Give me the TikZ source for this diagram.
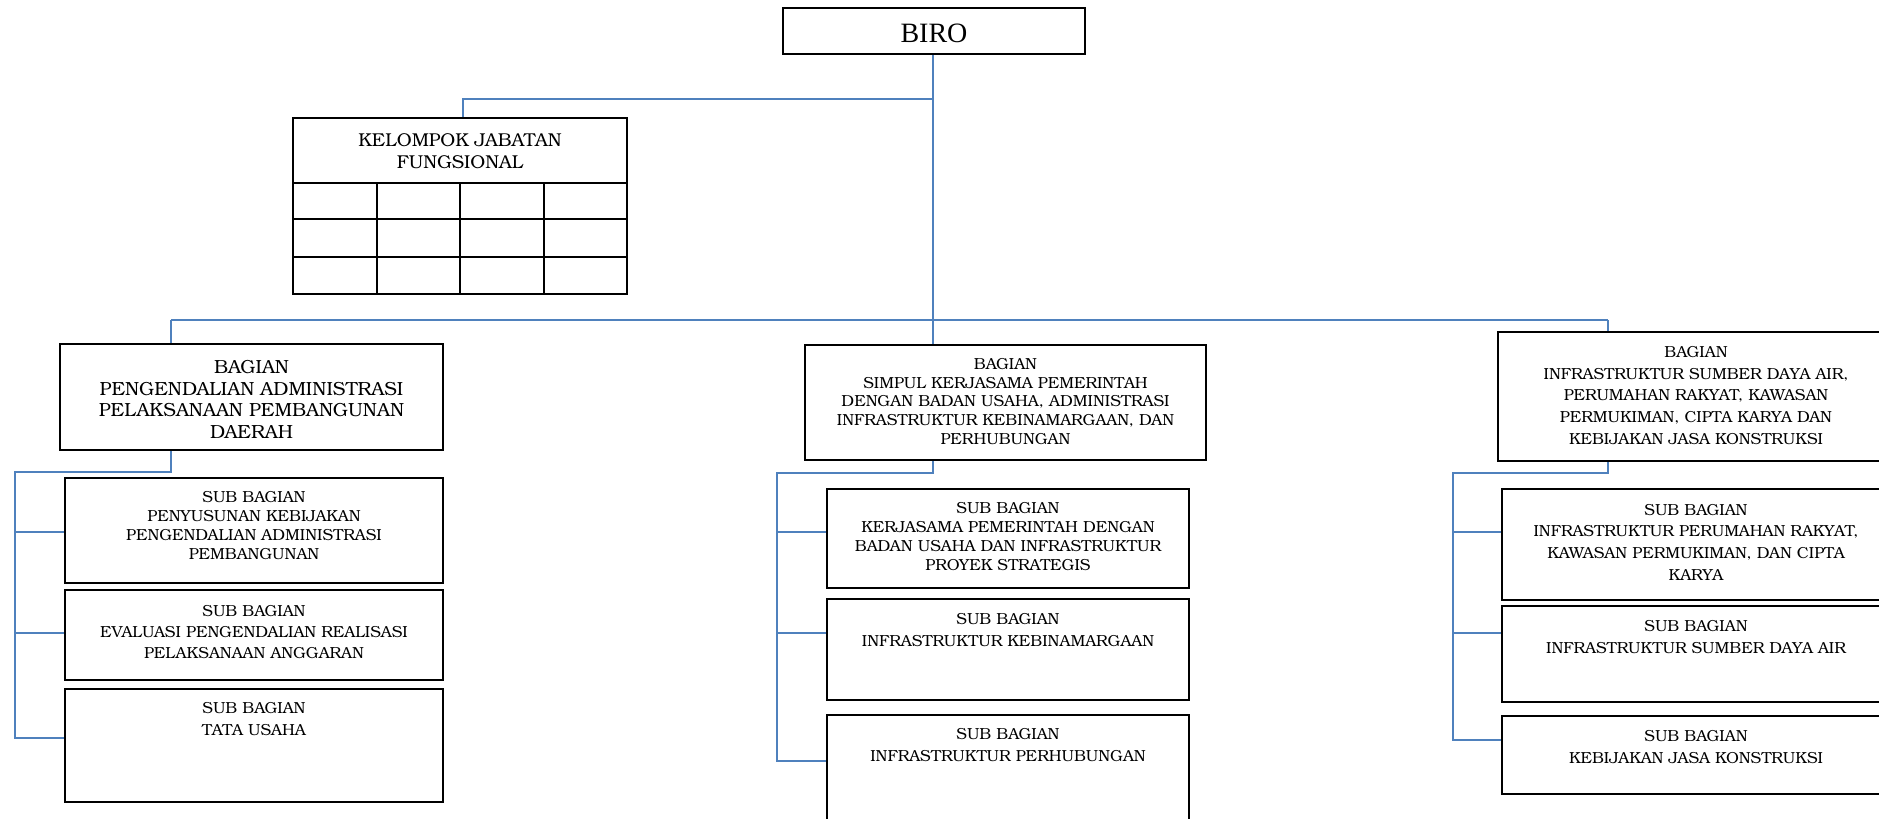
\documentclass[tikz,border=0pt]{standalone}
\usepackage{fontspec}
\setmainfont{texgyrebonum}[Extension=.otf, UprightFont=*-regular, BoldFont=*-bold, ItalicFont=*-italic, BoldItalicFont=*-bolditalic]
\newfontfamily\timesf{Liberation Serif}
\definecolor{blueline}{RGB}{79,129,189}
\tikzset{
  box/.style={draw=black, line width=1pt, inner sep=0pt, fill=white},
  conn/.style={draw=blueline, line width=1.2pt},
  txt/.style={align=center, inner sep=0pt},
}
\begin{document}
\begin{tikzpicture}[x=0.5pt,y=-0.5pt]
\useasboundingbox (0,0) rectangle (1879,819);
\clip (0,0) rectangle (1879,819);
\fill[white] (0,0) rectangle (1879,819);

% ---------- boxes ----------
\node[box, minimum width=151pt, minimum height=23pt] (biro) at (934,31) {};
\node[txt, font=\timesf\fontsize{14}{16}\selectfont] (birot) at (934,33) {BIRO};

\node[box, minimum width=167pt, minimum height=88pt] (kjf) at (460,206) {};
\node[txt, font=\fontsize{9.3}{10.85}\selectfont] (kjft) at (460,151) {KELOMPOK JABATAN\\FUNGSIONAL};
\draw[line width=0.8pt] (kjf.west |- 0,183) -- (kjf.east |- 0,183)
  (kjf.west |- 0,219) -- (kjf.east |- 0,219)
  (kjf.west |- 0,257) -- (kjf.east |- 0,257)
  (377,183) -- (377,294) (460,183) -- (460,294) (544,183) -- (544,294);

% left column
\node[box, minimum width=191.5pt, minimum height=53pt] (lb) at (251.5,397) {};
\node[txt, font=\fontsize{9.5}{10.85}\selectfont] (lbt) at (251.5,399.5) {BAGIAN\\PENGENDALIAN ADMINISTRASI\\PELAKSANAAN PEMBANGUNAN\\DAERAH};
\node[box, minimum width=189pt, minimum height=52.5pt] (ls1) at (254,530.5) {};
\node[txt, font=\fontsize{8}{9.5}\selectfont] (ls1t) at (254,526) {SUB BAGIAN\\PENYUSUNAN KEBIJAKAN\\PENGENDALIAN ADMINISTRASI\\PEMBANGUNAN};
\node[box, minimum width=189pt, minimum height=45pt] (ls2) at (254,635) {};
\node[txt, font=\fontsize{8}{10.5}\selectfont] (ls2t) at (254,632) {SUB BAGIAN\\EVALUASI PENGENDALIAN REALISASI\\PELAKSANAAN ANGGARAN};
\node[box, minimum width=189pt, minimum height=56.5pt] (ls3) at (254,745.5) {};
\node[txt, font=\fontsize{8}{11}\selectfont] (ls3t) at (254,719) {SUB BAGIAN\\TATA USAHA};

% middle column
\node[box, minimum width=200.5pt, minimum height=57.5pt] (mb) at (1005.5,402.5) {};
\node[txt, font=\fontsize{8}{9.4}\selectfont] (mbt) at (1005.5,401.5) {BAGIAN\\SIMPUL KERJASAMA PEMERINTAH\\DENGAN BADAN USAHA, ADMINISTRASI\\INFRASTRUKTUR KEBINAMARGAAN, DAN\\PERHUBUNGAN};
\node[box, minimum width=181pt, minimum height=49.5pt] (ms1) at (1008,538.5) {};
\node[txt, font=\fontsize{8}{9.4}\selectfont] (ms1t) at (1008,536.5) {SUB BAGIAN\\KERJASAMA PEMERINTAH DENGAN\\BADAN USAHA DAN INFRASTRUKTUR\\PROYEK STRATEGIS};
\node[box, minimum width=181pt, minimum height=50.5pt] (ms2) at (1008,649.5) {};
\node[txt, font=\fontsize{8}{11}\selectfont] (ms2t) at (1008,630) {SUB BAGIAN\\INFRASTRUKTUR KEBINAMARGAAN};
\node[box, minimum width=181pt, minimum height=70pt] (ms3) at (1008,785) {};
\node[txt, font=\fontsize{8}{11}\selectfont] (ms3t) at (1008,745) {SUB BAGIAN\\INFRASTRUKTUR PERHUBUNGAN};

% right column
\node[box, minimum width=198pt, minimum height=64.5pt] (rb) at (1696,396.5) {};
\node[txt, font=\fontsize{8}{10.95}\selectfont] (rbt) at (1696,395.5) {BAGIAN\\INFRASTRUKTUR SUMBER DAYA AIR,\\PERUMAHAN RAKYAT, KAWASAN\\PERMUKIMAN, CIPTA KARYA DAN\\KEBIJAKAN JASA KONSTRUKSI};
\node[box, minimum width=195pt, minimum height=55.5pt] (rs1) at (1697,544.5) {};
\node[txt, font=\fontsize{8}{10.85}\selectfont] (rs1t) at (1696,542) {SUB BAGIAN\\INFRASTRUKTUR PERUMAHAN RAKYAT,\\KAWASAN PERMUKIMAN, DAN CIPTA\\KARYA};
\node[box, minimum width=195pt, minimum height=48pt] (rs2) at (1697,654) {};
\node[txt, font=\fontsize{8}{11.2}\selectfont] (rs2t) at (1696,637) {SUB BAGIAN\\INFRASTRUKTUR SUMBER DAYA AIR};
\node[box, minimum width=195pt, minimum height=39pt] (rs3) at (1697,755) {};
\node[txt, font=\fontsize{8}{11.2}\selectfont] (rs3t) at (1696,747) {SUB BAGIAN\\KEBIJAKAN JASA KONSTRUKSI};

% ---------- connector coordinates ----------
\coordinate (bar) at (933,320);
\coordinate (kjfj) at (933,99);
\coordinate (barL) at (171,320);
\coordinate (barR) at (1608,320);
\coordinate (lt) at (15,472);
\coordinate (l1) at (15,532);
\coordinate (l2) at (15,633);
\coordinate (l3) at (15,738);
\coordinate (mt) at (777,473);
\coordinate (m1) at (777,532);
\coordinate (m2) at (777,633);
\coordinate (m3) at (777,761);
\coordinate (rt) at (1453,473);
\coordinate (r1) at (1453,532);
\coordinate (r2) at (1453,633);
\coordinate (r3) at (1453,740);

% ---------- connectors ----------
\draw[conn] (biro.south -| bar) -- (bar);
\draw[conn] (kjfj) -| (kjf.north -| 463,0);
\draw[conn] (barL) -- (barR);
\draw[conn] (barL) -- (lb.north -| barL);
\draw[conn] (bar) -- (mb.north -| bar);
\draw[conn] (barR) -- (rb.north -| barR);

\draw[conn] (lb.south -| barL) |- (lt) -- (l3) -- (l3 -| ls3.west);
\draw[conn] (l1) -- (l1 -| ls1.west);
\draw[conn] (l2) -- (l2 -| ls2.west);

\draw[conn] (mb.south -| bar) |- (mt) -- (m3) -- (m3 -| ms3.west);
\draw[conn] (m1) -- (m1 -| ms1.west);
\draw[conn] (m2) -- (m2 -| ms2.west);

\draw[conn] (rb.south -| barR) |- (rt) -- (r3) -- (r3 -| rs3.west);
\draw[conn] (r1) -- (r1 -| rs1.west);
\draw[conn] (r2) -- (r2 -| rs2.west);
\end{tikzpicture}
\end{document}
